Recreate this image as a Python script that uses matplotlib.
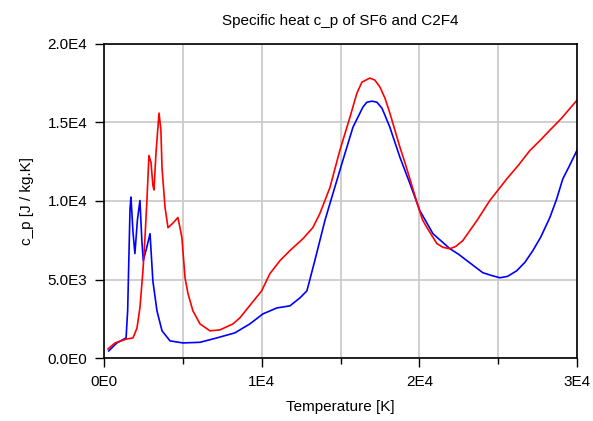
import numpy as np
import matplotlib
matplotlib.use("Agg")
import matplotlib.pyplot as plt
from matplotlib.ticker import FixedLocator

# values
temp_blue = [300, 820, 1400, 1500, 1650, 1710, 1840, 1960, 2120, 2280, 2400, 2490,
             2700, 2920, 3100, 3360, 3680, 4190, 5000, 6090, 7160, 8300, 9250, 10080,
             10970, 11790, 12430, 12870, 13370, 14010, 14330, 15150, 15790, 16420,
             16670, 17000, 17310, 17630, 17820, 18130, 18770, 19400, 20030, 20860,
             21940, 22500, 23020, 24030, 24600, 25110, 25600, 26180, 26700, 27200,
             27700, 28280, 28700, 29100, 29500, 30000]
cp_blue = [450, 960, 1280, 3000, 9500, 10250, 8000, 6650, 8800, 10030, 7500, 6200,
           7000, 7920, 4900, 3000, 1730, 1090, 960, 1000, 1280, 1600, 2170, 2810,
           3190, 3320, 3830, 4280, 6200, 8750, 9840, 12590, 14700, 15980,
           16290, 16360, 16290, 15910, 15460, 14700, 12780, 11120, 9390, 7920,
           6960, 6600, 6200, 5430, 5250, 5110, 5200, 5560, 6100, 6840,
           7700, 8950, 10100, 11410, 12200, 13230]

temp_red = [250, 700, 1400, 1840, 2090, 2280, 2470, 2600, 2720, 2850, 2980, 3100,
            3170, 3300, 3420, 3490, 3610, 3680, 3870, 4060, 4380, 4690, 4820,
            4940, 5140, 5330, 5640, 6090, 6720, 7350, 8180, 8620, 10000, 10520,
            11160, 11790, 12620, 13250, 13690, 14330, 14960, 15600, 16040, 16360,
            16860, 17180, 17500, 17820, 18130, 18770, 19100, 19400, 19850, 20200,
            20480, 21110, 21500, 21940, 22300, 22760, 23650, 24470, 25550, 26300,
            27000, 27700, 28280, 29000, 30000]
cp_red = [575, 960, 1200, 1280, 1900, 3200, 5560, 7670, 10000, 12900, 12460, 11000,
          10700, 13100, 14700, 15600, 14500, 12100, 9600, 8300, 8600, 8950, 8300,
          7670, 5100, 4090, 3000, 2170, 1730, 1790, 2170, 2560, 4280, 5370,
          6200, 6840, 7600, 8310, 9200, 10860, 13230, 15340, 16870, 17570,
          17830, 17700, 17260, 16550, 15600, 13420, 12400, 11410, 9900, 8800,
          8310, 7290, 7050, 6960, 7100, 7480, 8750, 10030, 11410, 12300,
          13200, 13900, 14510, 15250, 16420]

x_major = [0, 10000, 20000, 30000]
x_labels = ["0E0", "1E4", "2E4", "3E4"]
x_minor = [5000, 15000, 25000]
y_ticks = [0, 5000, 10000, 15000, 20000]
y_labels = ["0.0E0", "5.0E3", "1.0E4", "1.5E4", "2.0E4"]

plt.rcParams['font.family'] = ['Liberation Sans', 'DejaVu Sans']

fig = plt.figure(figsize=(5.93, 4.21), dpi=100)
ax = fig.add_axes([104/593, 1 - 358/421, 473/593, 314/421])

ax.plot(temp_blue, cp_blue, color=(0, 0, 1), lw=1.2)
ax.plot(temp_red, cp_red, color=(1, 0, 0), lw=1.2)

ax.set_xlim(0, 30000)
ax.set_ylim(0, 20000)
ax.xaxis.set_major_locator(FixedLocator(x_major))
ax.xaxis.set_minor_locator(FixedLocator(x_minor))
ax.set_xticklabels(x_labels)
ax.yaxis.set_major_locator(FixedLocator(y_ticks))
ax.set_yticklabels(y_labels)

ax.grid(True, which='both', color='#cccccc', lw=1.3)
ax.set_axisbelow(True)
ax.tick_params(axis='both', which='major', direction='out', length=6.5, width=1,
               pad=5.5, labelsize=11, color='black')
ax.tick_params(axis='x', which='minor', direction='out', length=4.3, width=1)
ax.tick_params(right=False, top=False)
for s in ax.spines.values():
    s.set_color('black')
    s.set_linewidth(1.2)

ax.set_xlabel('Temperature [K]', fontsize=11, labelpad=8)
ax.set_ylabel('c_p [J / kg.K]', fontsize=11, labelpad=10)
ax.set_title('Specific heat c_p of SF6 and C2F4', fontsize=11, pad=14)

fig.savefig('out.png', dpi=100)
